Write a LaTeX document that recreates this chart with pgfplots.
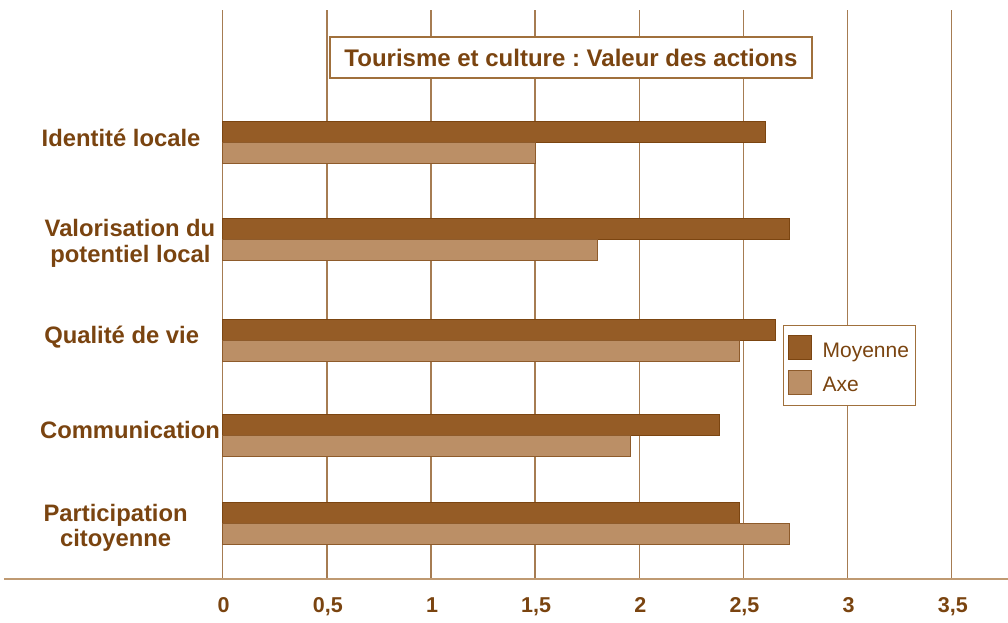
\documentclass[border=0pt]{standalone}
\usepackage{fontspec}
\setmainfont{Liberation Sans}
\usepackage{pgfplots}
\pgfplotsset{compat=1.18}
\definecolor{txt}{HTML}{7A4410}
\definecolor{moy}{HTML}{955C26}
\definecolor{moyd}{HTML}{7B4511}
\definecolor{axe}{HTML}{BB8F66}
\definecolor{axed}{HTML}{8E5B2B}
\definecolor{gridc}{HTML}{A67C52}
\definecolor{axlc}{HTML}{BF9A72}
\definecolor{boxc}{HTML}{A0703C}
\frenchspacing
\begin{document}
\begin{tikzpicture}
\begin{axis}[
  name=ax,
  scale only axis, width=1004pt, height=569pt,
  xmin=-1.0498, xmax=3.77, ymin=-579, ymax=-10,
  axis x line*=bottom, axis y line=none,
  x axis line style={color=axlc, line width=1.5pt},
  xtick={0,0.5,1,1.5,2,2.5,3,3.5},
  xticklabels={0,{0,5},1,{1,5},2,{2,5},3,{3,5}},
  ytick=\empty,
  major tick length=0pt,
  xmajorgrids, grid style={color=gridc, line width=1.4pt},
  xticklabel style={font=\fontsize{21.5}{24}\bfseries, text=txt, anchor=base, yshift=-34pt, xshift=1pt},
  clip=false,
  legend style={at={(0.776,0.4464)}, anchor=north west, draw=boxc, line width=1pt, fill=white,
    font=\fontsize{21}{24}\selectfont, text=txt, inner xsep=4pt, inner ysep=10pt, row sep=9.5pt,
    cells={anchor=west}, nodes={inner sep=2pt}},
  legend image code/.code={\draw[#1, line width=1pt] (0pt,-9.3pt) rectangle (23pt,14.7pt);},
]
\addplot[xbar, bar width=21, bar shift=0pt, fill=moy, draw=moyd, line width=1pt]
  coordinates {(2.605,-132) (2.72,-228.8) (2.655,-330) (2.385,-425.5) (2.48,-513)};
\addlegendentry{\hspace{9pt}Moyenne\hspace{2pt}}
\addplot[xbar, bar width=21, bar shift=0pt, fill=axe, draw=axed, line width=1pt]
  coordinates {(1.50,-153.3) (1.80,-249.7) (2.48,-351.2) (1.96,-446.4) (2.72,-533.8)};
\addlegendentry{\hspace{9pt}Axe\rule[-12.5pt]{0pt}{1pt}}
\node[draw=boxc, line width=1.2pt, fill=white, minimum width=482pt, minimum height=41pt,
  font=\fontsize{24}{26}\selectfont\bfseries, text=txt, inner sep=0pt]
  at (axis cs:1.672,-57.5) {Tourisme et culture : Valeur des actions};
\tikzset{cat/.style={anchor=base, font=\fontsize{23.8}{26}\selectfont\bfseries, text=txt, inner sep=0pt}}
\node[cat] at (axis cs:-0.488,-146.5) {Identité locale};
\node[cat] at (axis cs:-0.445,-236.7) {Valorisation du};
\node[cat] at (axis cs:-0.443,-263) {potentiel local};
\node[cat] at (axis cs:-0.485,-343.3) {Qualité de vie};
\node[cat] at (axis cs:-0.445,-438.3) {Communication};
\node[cat] at (axis cs:-0.514,-521.7) {Participation};
\node[cat] at (axis cs:-0.514,-546.7) {citoyenne};
\end{axis}
\pgfresetboundingbox
\path[use as bounding box] ([xshift=-4pt,yshift=-44pt]ax.south west) rectangle ([yshift=10pt]ax.north east);
\end{tikzpicture}
\end{document}
